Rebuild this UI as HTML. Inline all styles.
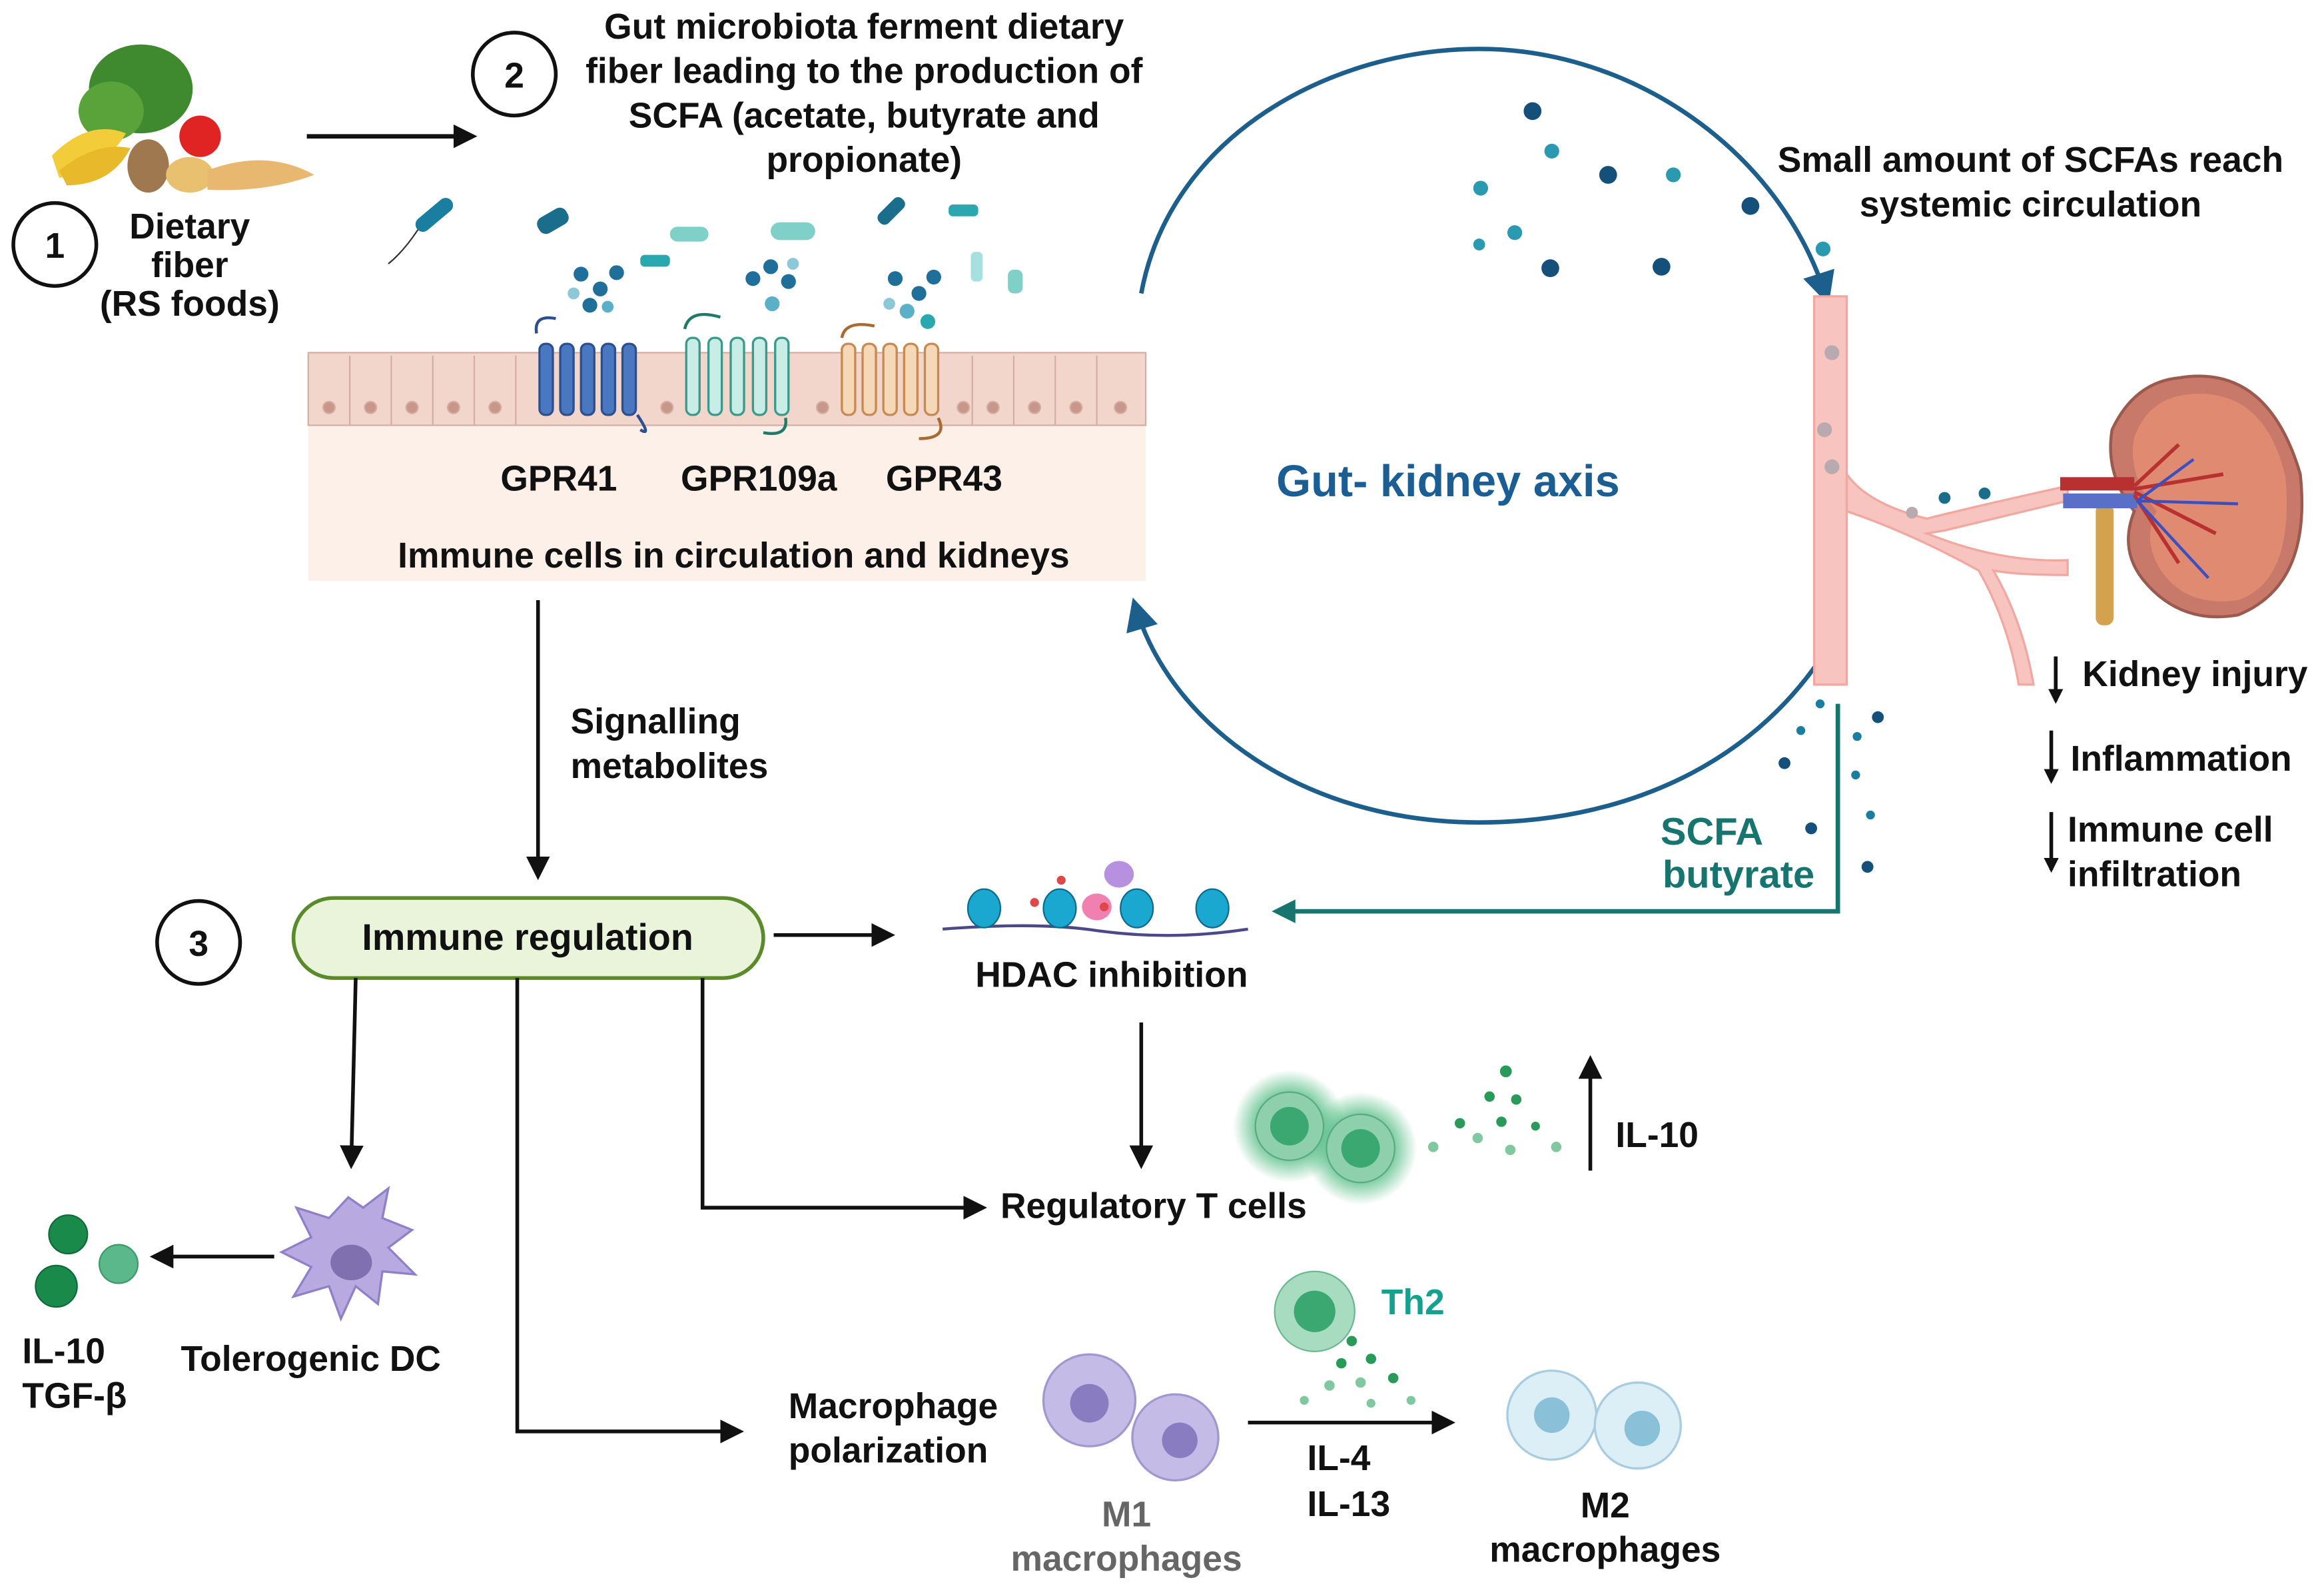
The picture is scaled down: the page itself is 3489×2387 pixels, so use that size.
<!DOCTYPE html>
<html><head><meta charset="utf-8"><style>
html,body{margin:0;padding:0;background:#fff}
svg{display:block}
text{font-family:"Liberation Sans",Arial,sans-serif;font-weight:bold;fill:#111}
</style></head><body>
<svg width="3489" height="2387" viewBox="0 0 1568 1073" preserveAspectRatio="none" xmlns="http://www.w3.org/2000/svg">
<defs>
<marker id="ab" markerWidth="10" markerHeight="10" refX="8" refY="5" orient="auto" markerUnits="userSpaceOnUse"><path d="M0,0 L10,5 L0,10 z" fill="#111"/></marker>
<marker id="ab2" markerWidth="16" markerHeight="16" refX="12" refY="8" orient="auto" markerUnits="userSpaceOnUse"><path d="M0,0 L16,8 L0,16 z" fill="#111"/></marker>
<marker id="abl" markerWidth="22" markerHeight="22" refX="16" refY="11" orient="auto" markerUnits="userSpaceOnUse"><path d="M0,0 L22,11 L0,22 z" fill="#1c5f8c"/></marker>
<marker id="abt" markerWidth="16" markerHeight="16" refX="12" refY="8" orient="auto" markerUnits="userSpaceOnUse"><path d="M0,0 L16,8 L0,16 z" fill="#16766f"/></marker>
<radialGradient id="gl"><stop offset="0.5" stop-color="#5cc08a"/><stop offset="1" stop-color="#5cc08a" stop-opacity="0"/></radialGradient>
</defs>

<!-- food -->
<g>
<ellipse cx="95" cy="60" rx="35" ry="30" fill="#3f8a2e"/>
<ellipse cx="75" cy="75" rx="22" ry="20" fill="#5aa33b"/>
<path d="M35,105 Q60,80 85,90 Q70,115 40,120z" fill="#f3cc3a"/>
<path d="M40,115 Q65,95 88,100 Q75,125 45,125z" fill="#e8b92a"/>
<circle cx="135" cy="92" r="14" fill="#e02424"/>
<ellipse cx="100" cy="112" rx="14" ry="18" fill="#a07850"/>
<ellipse cx="128" cy="118" rx="16" ry="12" fill="#e8c070"/>
<path d="M140,115 Q180,100 212,118 Q180,130 140,128z" fill="#e8b870"/>
</g>
<line x1="207" y1="92" x2="318" y2="92" stroke="#111" stroke-width="3" marker-end="url(#ab2)"/>
<circle cx="347" cy="50" r="28" fill="#fff" stroke="#111" stroke-width="2.5"/>
<text x="347" y="59" font-size="24" text-anchor="middle">2</text>
<g font-size="24" text-anchor="middle">
<text x="583" y="26">Gut microbiota ferment dietary</text>
<text x="583" y="56">fiber leading to the production of</text>
<text x="583" y="86">SCFA (acetate, butyrate and</text>
<text x="583" y="116">propionate)</text>
</g>
<circle cx="37" cy="165" r="28" fill="#fff" stroke="#111" stroke-width="2.5"/>
<text x="37" y="174" font-size="24" text-anchor="middle">1</text>
<g font-size="24" text-anchor="middle">
<text x="128" y="161">Dietary</text>
<text x="128" y="187">fiber</text>
<text x="128" y="213">(RS foods)</text>
</g>

<!-- bacteria -->
<g>
<rect x="278" y="140" width="30" height="10" rx="5" fill="#1a7ea0" transform="rotate(-40 293 145)"/>
<path d="M282,155 Q272,170 262,178" stroke="#333" stroke-width="1" fill="none"/>
<rect x="362" y="143" width="22" height="12" rx="5" fill="#1a6e8c" transform="rotate(-30 373 149)"/>
<rect x="520" y="150" width="30" height="12" rx="6" fill="#7fd0c8"/>
<rect x="452" y="153" width="26" height="10" rx="5" fill="#7fd0c8"/>
<rect x="590" y="138" width="22" height="9" rx="4" fill="#1a6e8c" transform="rotate(-45 601 142)"/>
<rect x="432" y="172" width="20" height="8" rx="3" fill="#2aa8b0"/>
<rect x="640" y="138" width="20" height="8" rx="3" fill="#2aa8b0"/>
<rect x="655" y="170" width="8" height="20" rx="3" fill="#a8e0e0"/>
<rect x="680" y="182" width="10" height="16" rx="4" fill="#7fd0c8"/>
<g fill="#1f6f9a"><circle cx="392" cy="185" r="5"/><circle cx="405" cy="195" r="5"/><circle cx="416" cy="184" r="5"/><circle cx="398" cy="206" r="5"/><circle cx="410" cy="207" r="4" fill="#5bb0c8"/><circle cx="387" cy="198" r="4" fill="#8cc8d8"/>
<circle cx="508" cy="188" r="5"/><circle cx="520" cy="180" r="5"/><circle cx="532" cy="190" r="5"/><circle cx="521" cy="205" r="5" fill="#5bb0c8"/><circle cx="535" cy="178" r="4" fill="#8cc8d8"/>
<circle cx="604" cy="188" r="5"/><circle cx="620" cy="198" r="5"/><circle cx="612" cy="210" r="5" fill="#5bb0c8"/><circle cx="630" cy="187" r="5"/><circle cx="626" cy="217" r="5" fill="#2aa8b0"/><circle cx="600" cy="205" r="4" fill="#8cc8d8"/></g>
</g>

<!-- epithelium -->
<rect x="208" y="287" width="565" height="105" fill="#fdf0e8"/>
<rect x="208" y="238" width="565" height="49" fill="#f2d6cc" stroke="#d4aea2" stroke-width="1"/>
<g stroke="#d4aea2" stroke-width="1" fill="#c9968a">
<line x1="236" y1="240" x2="236" y2="287"/><line x1="264" y1="240" x2="264" y2="287"/><line x1="292" y1="240" x2="292" y2="287"/><line x1="320" y1="240" x2="320" y2="287"/><line x1="348" y1="240" x2="348" y2="287"/><line x1="656" y1="240" x2="656" y2="287"/><line x1="684" y1="240" x2="684" y2="287"/><line x1="712" y1="240" x2="712" y2="287"/><line x1="740" y1="240" x2="740" y2="287"/>
<circle cx="222" cy="275" r="4"/><circle cx="250" cy="275" r="4"/><circle cx="278" cy="275" r="4"/><circle cx="306" cy="275" r="4"/><circle cx="334" cy="275" r="4"/><circle cx="450" cy="275" r="4"/><circle cx="555" cy="275" r="4"/><circle cx="650" cy="275" r="4"/><circle cx="670" cy="275" r="4"/><circle cx="698" cy="275" r="4"/><circle cx="726" cy="275" r="4"/><circle cx="756" cy="275" r="4"/>
</g>
<!-- receptors -->
<g>
<g fill="#4a78c0" stroke="#2c4f90" stroke-width="1.5"><rect x="364" y="232" width="9" height="48" rx="4"/><rect x="378" y="232" width="9" height="48" rx="4"/><rect x="392" y="232" width="9" height="48" rx="4"/><rect x="406" y="232" width="9" height="48" rx="4"/><rect x="420" y="232" width="9" height="48" rx="4"/></g>
<path d="M362,225 Q360,212 375,215 M430,280 Q440,295 432,290" stroke="#2c4f90" stroke-width="2" fill="none"/>
<g fill="#c8ece6" stroke="#3a9a8c" stroke-width="1.5"><rect x="463" y="228" width="9" height="52" rx="4"/><rect x="478" y="228" width="9" height="52" rx="4"/><rect x="493" y="228" width="9" height="52" rx="4"/><rect x="508" y="228" width="9" height="52" rx="4"/><rect x="523" y="228" width="9" height="52" rx="4"/></g>
<path d="M462,222 Q465,208 486,214 M530,282 Q532,295 515,292" stroke="#207a6a" stroke-width="2" fill="none"/>
<g fill="#f5d8b8" stroke="#c88a50" stroke-width="1.5"><rect x="568" y="232" width="9" height="48" rx="4"/><rect x="582" y="232" width="9" height="48" rx="4"/><rect x="596" y="232" width="9" height="48" rx="4"/><rect x="610" y="232" width="9" height="48" rx="4"/><rect x="624" y="232" width="9" height="48" rx="4"/></g>
<path d="M568,228 Q570,216 590,220 M633,282 Q640,296 620,296" stroke="#a86a30" stroke-width="2" fill="none"/>
</g>
<g font-size="24" text-anchor="middle">
<text x="377" y="331">GPR41</text>
<text x="512" y="331">GPR109a</text>
<text x="637" y="331">GPR43</text>
<text x="495" y="383">Immune cells in circulation and kidneys</text>
</g>

<!-- gut-kidney loop -->
<path d="M770,198 C790,90 900,33 998,33 C1100,33 1200,100 1232,200" fill="none" stroke="#1c5f8c" stroke-width="3" marker-end="url(#abl)"/>
<path d="M1232,439 C1180,520 1090,555 998,555 C880,555 790,490 766,409" fill="none" stroke="#1c5f8c" stroke-width="3" marker-end="url(#abl)"/>
<text x="977" y="335" font-size="30" text-anchor="middle" style="fill:#1b5e93">Gut- kidney axis</text>
<g>
<circle cx="1034" cy="75" r="6" fill="#14507a"/><circle cx="1047" cy="102" r="5" fill="#2a9ab0"/><circle cx="1085" cy="118" r="6" fill="#14507a"/><circle cx="1129" cy="118" r="5" fill="#2a9ab0"/><circle cx="999" cy="127" r="5" fill="#2a9ab0"/><circle cx="1022" cy="157" r="5" fill="#2a9ab0"/><circle cx="998" cy="165" r="4" fill="#2a9ab0"/><circle cx="1046" cy="181" r="6" fill="#14507a"/><circle cx="1121" cy="180" r="6" fill="#14507a"/><circle cx="1181" cy="139" r="6" fill="#14507a"/><circle cx="1230" cy="168" r="5" fill="#2a9ab0"/>
</g>
<g font-size="24" text-anchor="middle">
<text x="1370" y="116">Small amount of SCFAs reach</text>
<text x="1370" y="146">systemic circulation</text>
</g>

<!-- vessel -->
<g fill="#f8c4bf" stroke="#f0a8a0" stroke-width="1.5">
<rect x="1224" y="200" width="22" height="262"/>
<path d="M1246,320 Q1260,340 1300,350 Q1340,340 1395,328 L1395,338 Q1345,350 1312,358 L1300,360 Q1350,380 1395,378 L1395,388 Q1360,388 1345,385 Q1365,420 1372,462 L1362,462 Q1355,420 1335,385 Q1290,360 1246,345z"/>
</g>
<g fill="#b8aaae"><circle cx="1236" cy="238" r="5"/><circle cx="1231" cy="290" r="5"/><circle cx="1236" cy="315" r="5"/><circle cx="1290" cy="346" r="4"/><circle cx="1339" cy="333" r="4" fill="#1a6e8c"/><circle cx="1312" cy="336" r="4" fill="#1a6e8c"/></g>
<!-- kidney -->
<rect x="1414" y="340" width="12" height="82" rx="5" fill="#d4a24e"/>
<path d="M1470,255 Q1530,245 1552,320 Q1560,395 1510,415 Q1470,422 1445,390 Q1430,370 1440,345 Q1420,320 1425,290 Q1440,258 1470,255z" fill="#c9796a" stroke="#9a5a4e" stroke-width="2"/>
<path d="M1478,266 Q1528,262 1542,322 Q1548,392 1510,405 Q1475,410 1458,385 Q1445,365 1455,345 Q1435,320 1440,295 Q1450,268 1478,266z" fill="#e08a72"/>
<rect x="1390" y="322" width="50" height="9" fill="#b83030"/>
<rect x="1392" y="333" width="50" height="10" fill="#5a70c8"/>
<path d="M1440,328 L1470,300 M1440,330 L1500,320 M1440,332 L1495,360 M1440,334 L1470,380" stroke="#b83030" stroke-width="2.5"/>
<path d="M1442,338 L1480,310 M1442,338 L1510,340 M1442,338 L1490,390" stroke="#3a50c0" stroke-width="2"/>
<g font-size="24">
<text x="1405" y="463">Kidney injury</text>
<text x="1397" y="520">Inflammation</text>
<text x="1395" y="568">Immune cell</text>
<text x="1395" y="598">infiltration</text>
</g>
<line x1="1387" y1="443" x2="1387" y2="473" stroke="#111" stroke-width="2.5" marker-end="url(#ab)"/>
<line x1="1384" y1="493" x2="1384" y2="527" stroke="#111" stroke-width="2.5" marker-end="url(#ab)"/>
<line x1="1384" y1="548" x2="1384" y2="587" stroke="#111" stroke-width="2.5" marker-end="url(#ab)"/>

<!-- SCFA butyrate -->
<g><circle cx="1228" cy="475" r="3" fill="#1a7ea0"/><circle cx="1215" cy="493" r="3" fill="#1a7ea0"/><circle cx="1267" cy="484" r="4" fill="#14507a"/><circle cx="1204" cy="515" r="4" fill="#14507a"/><circle cx="1253" cy="497" r="3" fill="#1a7ea0"/><circle cx="1252" cy="523" r="3" fill="#1a7ea0"/><circle cx="1222" cy="559" r="4" fill="#14507a"/><circle cx="1262" cy="550" r="3" fill="#1a7ea0"/><circle cx="1260" cy="585" r="4" fill="#14507a"/></g>
<polyline points="1240,475 1240,615 862,615" fill="none" stroke="#16766f" stroke-width="3" marker-end="url(#abt)"/>
<g font-size="26" text-anchor="middle"><text x="1155" y="570" style="fill:#16766f">SCFA</text><text x="1173" y="599" style="fill:#16766f">butyrate</text></g>

<!-- signalling -->
<line x1="363" y1="405" x2="363" y2="590" stroke="#111" stroke-width="2.5" marker-end="url(#ab2)"/>
<g font-size="24"><text x="385" y="495">Signalling</text><text x="385" y="525">metabolites</text></g>

<circle cx="134" cy="636" r="28" fill="#fff" stroke="#111" stroke-width="2.5"/>
<text x="134" y="645" font-size="24" text-anchor="middle">3</text>
<rect x="198" y="606" width="317" height="54" rx="27" fill="#e9f4da" stroke="#5a8a2a" stroke-width="2.5"/>
<text x="356" y="641" font-size="25" text-anchor="middle">Immune regulation</text>
<line x1="522" y1="631" x2="600" y2="631" stroke="#111" stroke-width="2.5" marker-end="url(#ab2)"/>

<!-- HDAC -->
<path d="M636,627 Q700,622 740,628 Q790,635 842,627" stroke="#4a4a8a" stroke-width="2" fill="none"/>
<g fill="#1aa8d0" stroke="#0e6a8a" stroke-width="1"><ellipse cx="664" cy="613" rx="11" ry="13"/><ellipse cx="715" cy="613" rx="11" ry="13"/><ellipse cx="767" cy="613" rx="11" ry="13"/><ellipse cx="818" cy="613" rx="11" ry="13"/></g>
<ellipse cx="740" cy="612" rx="10" ry="9" fill="#f080b0"/>
<ellipse cx="755" cy="590" rx="10" ry="9" fill="#b890e0"/>
<g fill="#e04848"><circle cx="698" cy="609" r="3"/><circle cx="716" cy="594" r="3"/><circle cx="745" cy="612" r="3"/></g>
<text x="750" y="666" font-size="24" text-anchor="middle">HDAC inhibition</text>
<line x1="770" y1="690" x2="770" y2="785" stroke="#111" stroke-width="2.5" marker-end="url(#ab2)"/>

<!-- Tregs -->
<polyline points="474,660 474,815 662,815" fill="none" stroke="#111" stroke-width="2.5" marker-end="url(#ab2)"/>
<text x="675" y="822" font-size="24">Regulatory T cells</text>
<circle cx="870" cy="760" r="38" fill="url(#gl)"/>
<circle cx="918" cy="775" r="38" fill="url(#gl)"/>
<circle cx="870" cy="760" r="23" fill="#8ed0ac" stroke="#5aaa80"/><circle cx="870" cy="760" r="13" fill="#3aa870"/>
<circle cx="918" cy="775" r="23" fill="#8ed0ac" stroke="#5aaa80"/><circle cx="918" cy="775" r="13" fill="#3aa870"/>
<g fill="#2a9a5a"><circle cx="1016" cy="723" r="4"/><circle cx="1005" cy="740" r="3.5"/><circle cx="1023" cy="742" r="3.5"/><circle cx="985" cy="758" r="3.5"/><circle cx="1013" cy="757" r="3.5"/><circle cx="997" cy="768" r="3.5" fill="#80c8a0"/><circle cx="967" cy="774" r="3.5" fill="#80c8a0"/><circle cx="1019" cy="776" r="3.5" fill="#80c8a0"/><circle cx="1050" cy="774" r="3.5" fill="#80c8a0"/><circle cx="1036" cy="760" r="3"/></g>
<line x1="1073" y1="790" x2="1073" y2="716" stroke="#111" stroke-width="2.5" marker-end="url(#ab2)"/>
<text x="1090" y="774" font-size="24">IL-10</text>

<!-- tolerogenic DC -->
<polyline points="240,660 237,785" fill="none" stroke="#111" stroke-width="2.5" marker-end="url(#ab2)"/>
<g fill="#b8aae0" stroke="#9080c8" stroke-width="1.5">
<path d="M235,808 L245,815 L262,802 L258,822 L278,830 L262,842 L280,860 L258,858 L255,880 L240,868 L230,890 L222,868 L198,875 L210,855 L190,845 L210,835 L200,815 L222,822z"/>
</g>
<ellipse cx="237" cy="852" rx="14" ry="12" fill="#8070b0"/>
<line x1="185" y1="848" x2="105" y2="848" stroke="#111" stroke-width="2.5" marker-end="url(#ab2)"/>
<g><circle cx="46" cy="833" r="13" fill="#1a8a4a" stroke="#0e6a3a"/><circle cx="38" cy="868" r="14" fill="#1a8a4a" stroke="#0e6a3a"/><circle cx="80" cy="853" r="13" fill="#5ab88a" stroke="#3a9a6a"/></g>
<g font-size="24"><text x="15" y="920">IL-10</text><text x="15" y="950">TGF-β</text><text x="122" y="925">Tolerogenic DC</text></g>

<!-- macrophages -->
<polyline points="349,660 349,966 498,966" fill="none" stroke="#111" stroke-width="2.5" marker-end="url(#ab2)"/>
<g font-size="24"><text x="532" y="957">Macrophage</text><text x="532" y="987">polarization</text></g>
<g fill="#c4bce6" stroke="#a298d0" stroke-width="1.5"><circle cx="735" cy="945" r="31"/><circle cx="793" cy="970" r="29"/></g>
<circle cx="735" cy="947" r="13" fill="#8a7cc0"/><circle cx="796" cy="972" r="12" fill="#8a7cc0"/>
<g font-size="24" text-anchor="middle"><text x="760" y="1030" style="fill:#666">M1</text><text x="760" y="1060" style="fill:#666">macrophages</text></g>
<circle cx="887" cy="885" r="27" fill="#a8dcc0" stroke="#6ab890"/><circle cx="887" cy="885" r="14" fill="#3aa870"/>
<text x="932" y="887" font-size="24" style="fill:#16a090">Th2</text>
<g fill="#2a9a5a"><circle cx="912" cy="905" r="3.5"/><circle cx="925" cy="917" r="3.5"/><circle cx="905" cy="920" r="3.5"/><circle cx="940" cy="930" r="3.5"/><circle cx="918" cy="933" r="3.5" fill="#80c8a0"/><circle cx="897" cy="935" r="3.5" fill="#80c8a0"/><circle cx="880" cy="945" r="3" fill="#80c8a0"/><circle cx="925" cy="947" r="3" fill="#80c8a0"/><circle cx="952" cy="945" r="3" fill="#80c8a0"/></g>
<line x1="842" y1="960" x2="978" y2="960" stroke="#111" stroke-width="2.5" marker-end="url(#ab2)"/>
<g font-size="24"><text x="882" y="992">IL-4</text><text x="882" y="1023">IL-13</text></g>
<g fill="#dceef6" stroke="#a8cce0" stroke-width="1.5"><circle cx="1047" cy="955" r="30"/><circle cx="1105" cy="962" r="29"/></g>
<circle cx="1047" cy="955" r="12" fill="#8ac0d8"/><circle cx="1108" cy="964" r="12" fill="#8ac0d8"/>
<g font-size="24" text-anchor="middle"><text x="1083" y="1024">M2</text><text x="1083" y="1054">macrophages</text></g>
</svg>
</body></html>
